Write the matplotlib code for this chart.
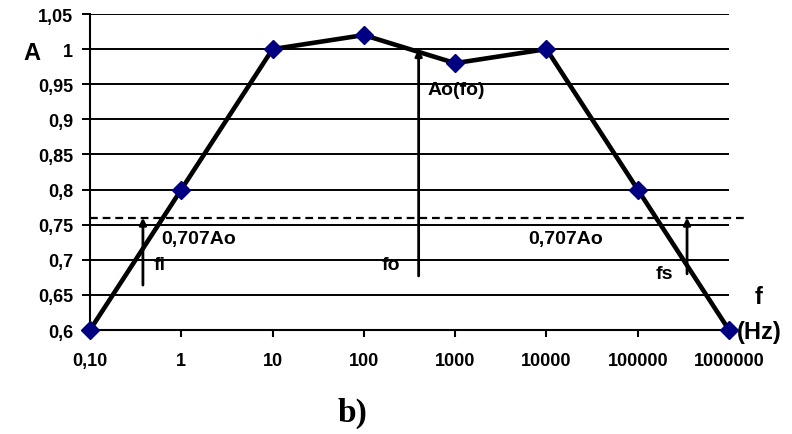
import matplotlib.pyplot as plt

plt.rcParams['font.family'] = ['Liberation Sans', 'DejaVu Sans']

# data
freq_labels = ['0,10', '1', '10', '100', '1000', '10000', '100000', '1000000']
gain = [0.6, 0.8, 1.0, 1.02, 0.98, 1.0, 0.8, 0.6]
y_ticks = [0.6, 0.65, 0.7, 0.75, 0.8, 0.85, 0.9, 0.95, 1.0, 1.05]
y_labels = ['0,6', '0,65', '0,7', '0,75', '0,8', '0,85', '0,9', '0,95', '1', '1,05']
cutoff = 0.76
# arrows: (x position, y start, y end)
arrow_fi = (0.58, 0.664, cutoff)
arrow_fo = (3.6, 0.677, 1.0)
arrow_fs = (6.54, 0.68, cutoff)

fig = plt.figure(figsize=(7.92, 4.35), dpi=100)
ax = fig.add_axes([0.1136, 0.239, 0.8069, 0.7265])

x = list(range(len(freq_labels)))
for yv in y_ticks[1:]:
    ax.axhline(yv, color='black', lw=1.4, zorder=1)

ax.plot(x, gain, color='black', lw=3.3, marker='D', markersize=9.5,
        markerfacecolor='#000080', markeredgecolor='#000080', zorder=3,
        clip_on=False)

ax.plot([0, 7.16], [cutoff, cutoff], color='black', lw=1.6,
        dashes=(3.5, 2.2), clip_on=False, zorder=2)

for xa, y0, y1 in (arrow_fi, arrow_fo, arrow_fs):
    ax.annotate('', xy=(xa, y1), xytext=(xa, y0),
                arrowprops=dict(arrowstyle='-|>', lw=2, color='black',
                                mutation_scale=10, shrinkA=0, shrinkB=0),
                zorder=4)

ax.set_xlim(0, 7)
ax.set_ylim(0.6, 1.05)
ax.set_xticks(x)
ax.set_xticklabels(freq_labels, fontsize=13, fontweight='bold')
ax.set_yticks(y_ticks)
ax.set_yticklabels(y_labels, fontsize=13, fontweight='bold')
ax.tick_params(axis='x', length=5, width=1.5, pad=11)
ax.tick_params(axis='y', length=5.5, width=1.4, pad=6.5)
for s in ('top', 'right'):
    ax.spines[s].set_visible(False)
for s in ('left', 'bottom'):
    ax.spines[s].set_linewidth(1.5)

bold = dict(fontweight='bold', fontsize=14, color='black')
ax.text(0.78, 0.73, '0,707Ao', ha='left', va='center', **bold)
ax.text(4.8, 0.731, '0,707Ao', ha='left', va='center', **bold)
ax.text(0.7, 0.693, 'fi', ha='left', va='center', **bold)
ax.text(3.2, 0.693, 'fo', ha='left', va='center', **bold)
ax.text(6.2, 0.68, 'fs', ha='left', va='center', **bold)
ax.text(3.7, 0.942, 'Ao(fo)', ha='left', va='center', **bold)

fig.text(23 / 792, 1 - 53 / 435, 'A', fontsize=17, fontweight='bold',
         ha='left', va='center')
fig.text(759 / 792, 1 - 298 / 435, 'f', fontsize=17, fontweight='bold',
         ha='center', va='center')
fig.text(759 / 792, 1 - 332 / 435, '(Hz)', fontsize=17, fontweight='bold',
         ha='center', va='center')
fig.text(353 / 792, 1 - 413 / 435, 'b)', fontsize=24, fontweight='bold',
         family='Liberation Serif', ha='center', va='center')

fig.savefig('out.png', dpi=100)
